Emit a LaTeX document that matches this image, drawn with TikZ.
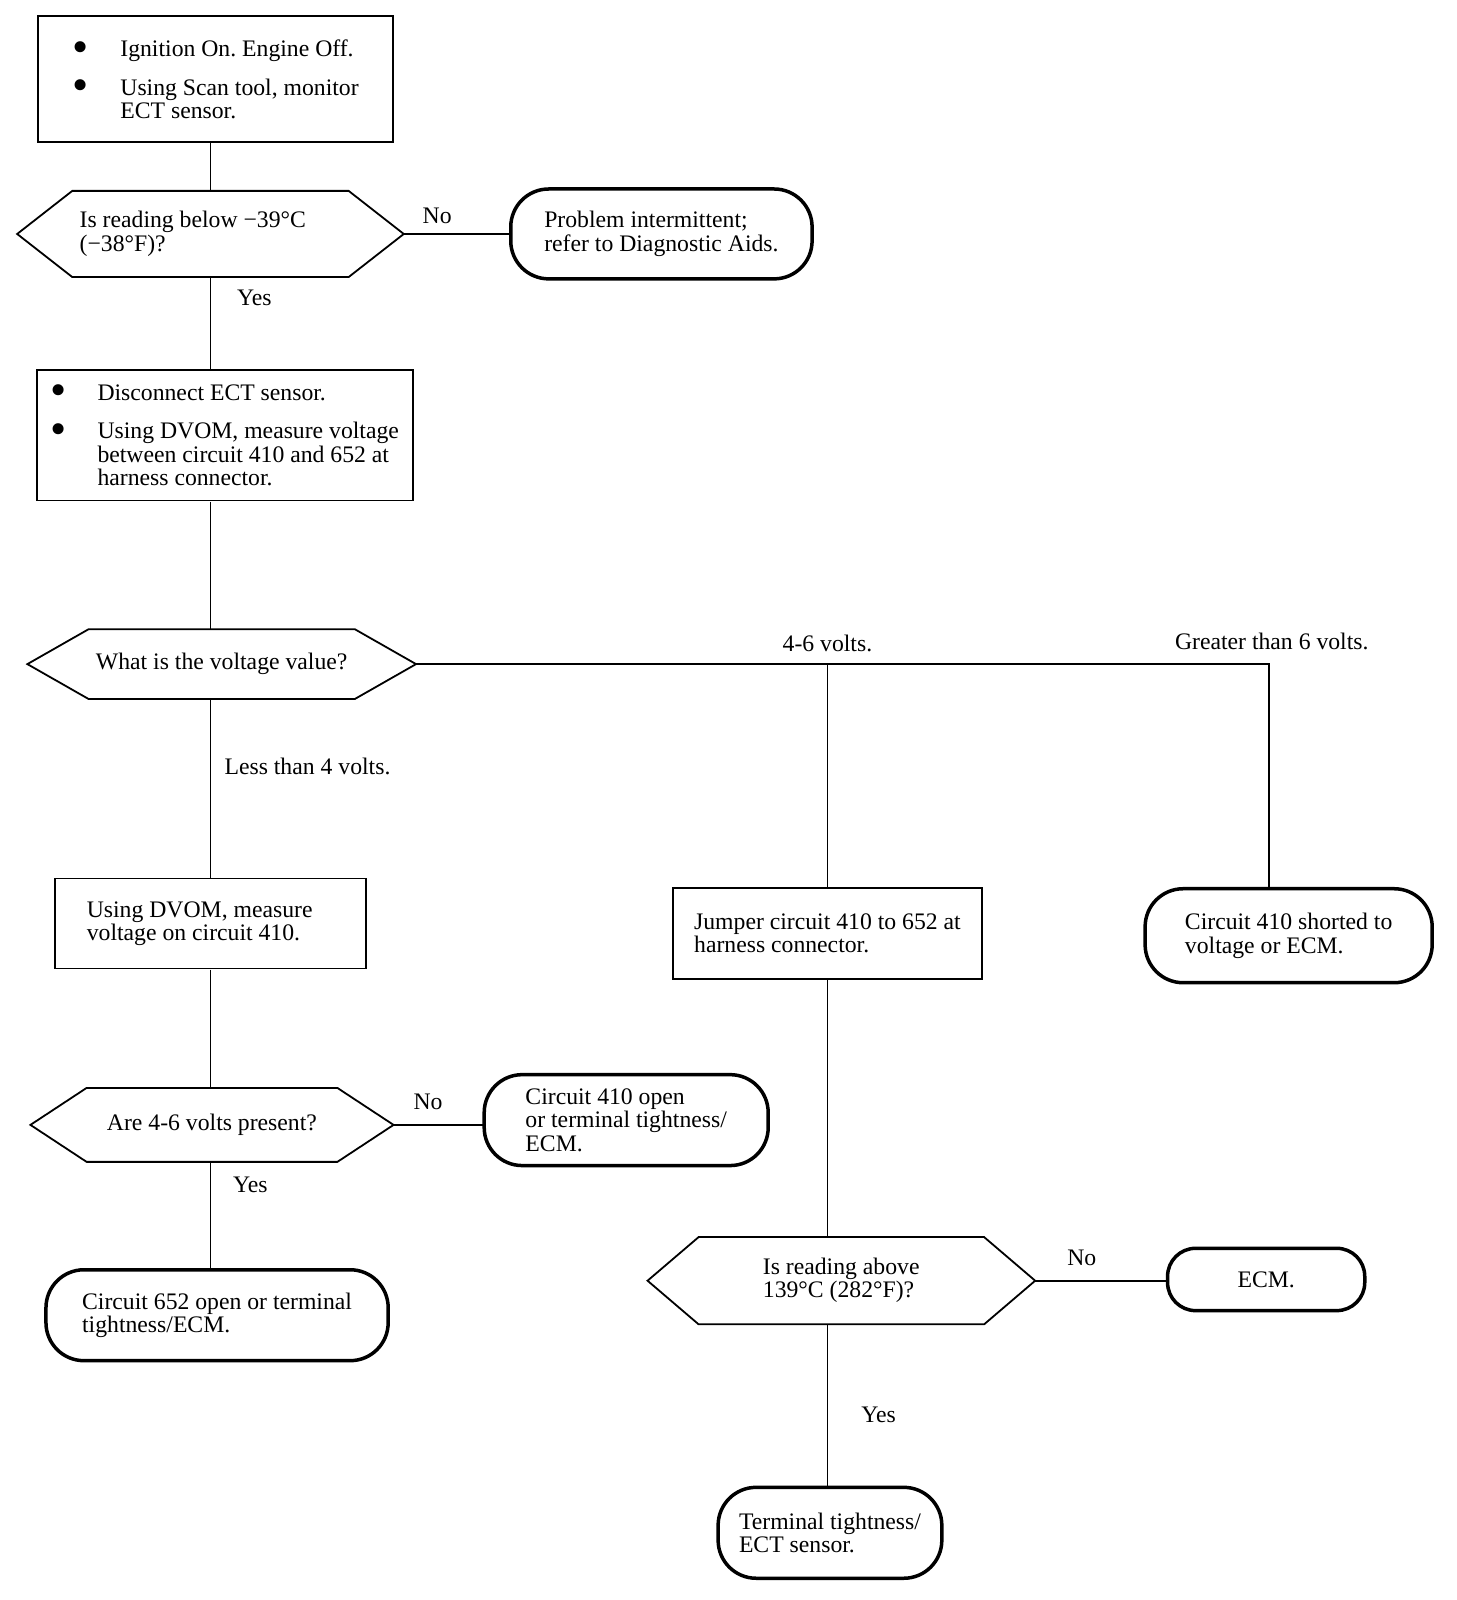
\documentclass[tikz,border=0pt]{standalone}
\usepackage{fontspec}
\setmainfont{Liberation Serif}
\usetikzlibrary{calc}

\newcommand{\blt}[1]{\makebox[#1][l]{\smash{\raisebox{-0.24em}{\scalebox{1.95}{\textbullet}}}}}

\begin{document}
\begin{tikzpicture}[x=1pt,y=-1pt,scale=1.0215,transform shape,
    every node/.style={font=\fontsize{23.2}{22.8}\selectfont\frenchspacing},
    stepbox/.style={rectangle,draw,line width=1.8pt,align=flush left,inner sep=0pt},
    endbox/.style={rectangle,draw,line width=3.5pt,rounded corners=38pt,align=flush left,inner sep=0pt},
    question/.style={rectangle,align=flush left,inner sep=0pt},
    lbl/.style={inner sep=0pt},
    link/.style={line width=1.6pt}]
    \useasboundingbox (0,0) rectangle (1425.35,1566.3);

    % boxes and questions
    \node[stepbox,minimum width=348pt,minimum height=123pt] (start) at (211,77.5)
      {\blt{47pt}Ignition On. Engine Off.\\[15pt]
       \blt{47pt}Using Scan tool, monitor\\\hspace*{47pt}ECT sensor.};
    \node[question,text width=256pt,minimum width=378pt,minimum height=84pt] (below39) at (206,229)
      {Is reading below −39°C\\(−38°F)?};
    \node[endbox,minimum width=295pt,minimum height=88pt] (intermit) at (647.5,229)
      {Problem intermittent;\\refer to Diagnostic Aids.};
    \node[stepbox,minimum width=368pt,minimum height=128pt] (disconnect) at (220,426)
      {\blt{46pt}Disconnect ECT sensor.\\[15pt]
       \blt{46pt}Using DVOM, measure voltage\\
       \hspace*{46pt}between circuit 410 and 652 at\\\hspace*{46pt}harness connector.};
    \node[question,minimum width=380pt,minimum height=68pt] (voltage) at (217,650)
      {What is the voltage value?};
    \node[stepbox,text width=242pt,minimum width=304pt,minimum height=88pt] (dvom410) at (206,904)
      {Using DVOM, measure\\voltage on circuit 410.};
    \node[question,minimum width=355pt,minimum height=72pt] (present46) at (207.5,1101)
      {Are 4-6 volts present?};
    \node[endbox,minimum width=278pt,minimum height=89pt] (open410) at (613,1096.5)
      {Circuit 410 open\\or terminal tightness/\\ECM.};
    \node[endbox,minimum width=335pt,minimum height=89pt] (open652) at (212.5,1287.5)
      {Circuit 652 open or terminal\\tightness/ECM.};
    \node[stepbox,minimum width=303pt,minimum height=89pt] (jumper) at (810,913.5)
      {Jumper circuit 410 to 652 at\\harness connector.};
    \node[question,minimum width=379pt,minimum height=85pt] (above139) at (823.5,1253.5)
      {Is reading above\\139°C (282°F)?};
    \node[endbox,rounded corners=28pt,minimum width=193pt,minimum height=61pt] (ecm) at (1239.5,1252.5)
      {ECM.};
    \node[endbox,minimum width=219pt,minimum height=89pt] (tight) at (812.5,1500.5)
      {Terminal tightness/\\ECT sensor.};
    \node[endbox,minimum width=281pt,minimum height=92pt] (short410) at (1261.5,916)
      {Circuit 410 shorted to\\voltage or ECM.};

    % hexagon outlines
    \foreach \q/\c in {below39/54,voltage/60,present46/55,above139/50}
      \draw[line width=1.8pt] (\q.west) -- ([xshift=\c]\q.north west) -- ([xshift=-\c]\q.north east)
        -- (\q.east) -- ([xshift=-\c]\q.south east) -- ([xshift=\c]\q.south west) -- cycle;

    % connectors
    \coordinate (greater) at (1242,650);
    \draw[link] (below39.north) -- (below39.north |- start.south);
    \draw[link] (below39.east) -- (intermit.west);
    \draw[link] (below39.south) -- (below39.south |- disconnect.north);
    \draw[link] (below39.south |- disconnect.south) -- (below39.south |- voltage.north);
    \draw[link] (dvom410.north) -- (dvom410.north |- voltage.south);
    \draw[link] (voltage.east) -- (greater) -- (greater |- short410.north);
    \draw[link] (jumper.north) -- (jumper.north |- voltage.east);
    \draw[link] (dvom410.south) -- (dvom410.south |- present46.north);
    \draw[link] (present46.east) -- (present46.east -| open410.west);
    \draw[link] (dvom410.south |- present46.south) -- (dvom410.south |- open652.north);
    \draw[link] (jumper.south) -- (jumper.south |- above139.north);
    \draw[link] (above139.east) -- (above139.east -| ecm.west);
    \draw[link] (jumper.south |- above139.south) -- (jumper.south |- tight.north);

    % branch labels
    \node[lbl] (noA) at (428,211) {No};
    \node[lbl] (yesA) at (249,292) {Yes};
    \node[lbl] (mid46) at (810,630) {4-6 volts.};
    \node[lbl] (over6) at (1245,628) {Greater than 6 volts.};
    \node[lbl] (under4) at (301,750) {Less than 4 volts.};
    \node[lbl] (noB) at (419,1079) {No};
    \node[lbl] (yesB) at (245,1160) {Yes};
    \node[lbl] (noC) at (1059,1231) {No};
    \node[lbl] (yesC) at (860,1385) {Yes};
\end{tikzpicture}
\end{document}
